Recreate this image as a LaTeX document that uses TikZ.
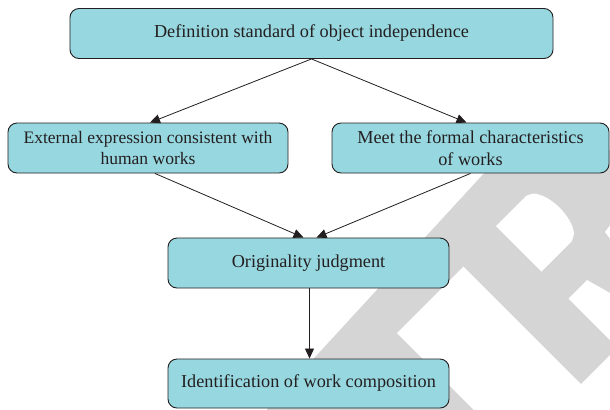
\documentclass[tikz,border=0pt]{standalone}
\usepackage{fontspec}
\setmainfont{Liberation Serif}
\usetikzlibrary{arrows.meta}

\definecolor{boxfill}{RGB}{151,216,224}
\definecolor{boxline}{RGB}{35,31,32}
\definecolor{textcol}{RGB}{35,31,32}
\definecolor{wmgrey}{RGB}{213,213,213}

\tikzset{
  box/.style={draw=boxline, line width=0.9bp, rounded corners=9bp, fill=boxfill,
    minimum height=50bp, align=center, inner sep=0pt, text=textcol,
    font=\fontsize{18.3}{21.6}\selectfont},
  link/.style={draw=boxline, line width=0.8bp,
    -{Triangle[length=10bp,width=9bp]}}
}

\begin{document}
\begin{tikzpicture}[x=1bp,y=-1bp]
\useasboundingbox (0,0) rectangle (610,409);
\fill[white] (0,0) rectangle (610,409);

% grey stamp lettering in the lower right
\begin{scope}
  \clip (0,0) rectangle (610,409);
  \fill[wmgrey] (264.6,412) -- (505.4,150) -- (612,150) -- (612,412) -- cycle;
  \fill[white] (397,333) -- (463.5,266.5) -- (648.5,451.5) -- (582,518) -- cycle;
  \fill[white] (496,226) -- (526,196) -- plot[smooth] coordinates
    {(526,196) (534.55,193.55) (546.9,197.85) (559.75,207.75) (569.65,220.6) (573.95,232.95) (571.5,241.5)}
    -- (541.5,271.5) -- cycle;
  \fill[white] (568.5,298.5) -- (587,280) -- (672,328) -- (635,365) -- cycle;
  \fill[white] (514.5,450.5) -- (632.5,332.5) -- (750,450) -- (632,568) -- cycle;
  \fill[white] (605,232) -- (611,224) -- (611,240) -- cycle;
\end{scope}

% boxes
\node[box, minimum width=483bp] (def) at (311.5,33.5)
  {Definition standard of object independence};
\node[box, minimum width=280bp, font=\fontsize{17.6}{21.6}\selectfont] (ext) at (148,148)
  {External expression consistent with\\human works};
\node[box, minimum width=277bp] (meet) at (470.5,148)
  {Meet the formal characteristics\\of works};
\node[box, minimum width=281bp] (orig) at (308.5,263)
  {Originality judgment};
\node[box, minimum width=281bp, minimum height=49bp] (ident) at (308.5,383.5)
  {Identification of work composition};

% connectors
\draw[link] (def.south) -- ([xshift=2bp]ext.north);
\draw[link] (def.south) -- ([xshift=-4bp]meet.north);
\draw[link] ([xshift=7bp]ext.south) -- ([xshift=-5bp]orig.north);
\draw[link] (meet.south) -- ([xshift=8bp]orig.north);
\draw[link] ([xshift=1bp]orig.south) -- ([xshift=1bp]ident.north);
\end{tikzpicture}
\end{document}
